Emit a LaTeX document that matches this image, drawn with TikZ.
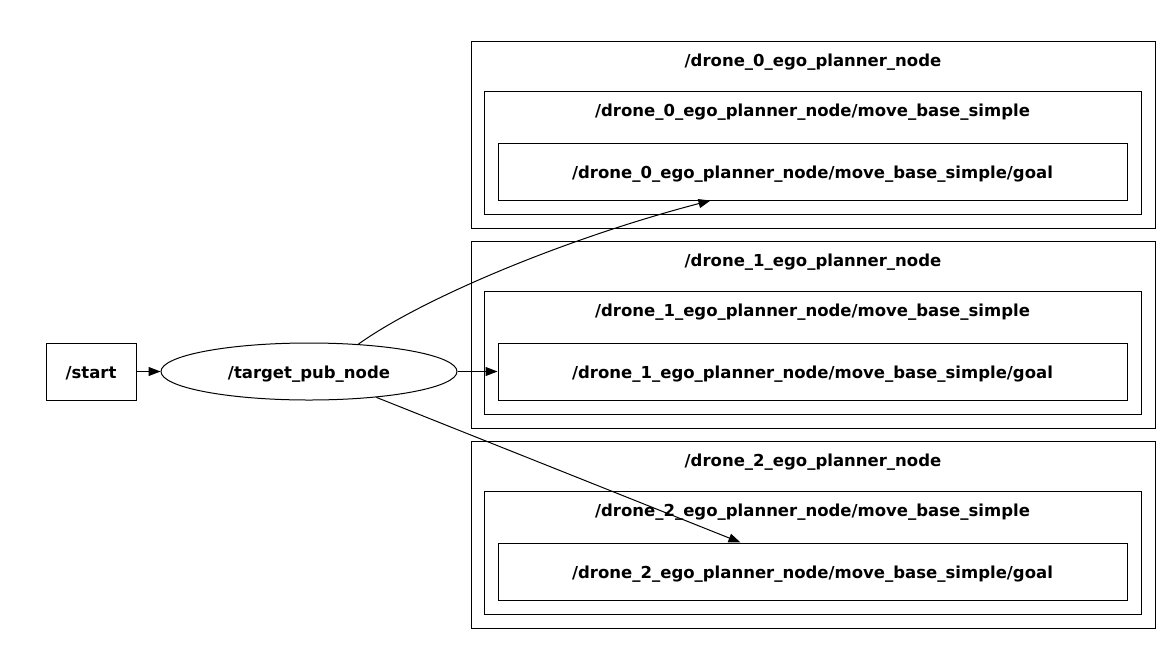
\documentclass[tikz,border=0pt]{standalone}
\usepackage{fontspec}
\setmainfont{DejaVu Sans}
\usetikzlibrary{arrows.meta,shapes.geometric}

\begin{document}
\begin{tikzpicture}[
    x=1pt, y=-1pt,
    every node/.style={font=\fontsize{16.5}{19}\selectfont\bfseries},
    outerbox/.style={rectangle, draw=black, line width=1pt, minimum width=684pt, minimum height=187pt, inner sep=0pt},
    midbox/.style={rectangle, draw=black, line width=1pt, minimum width=657pt, minimum height=123pt, inner sep=0pt},
    topicbox/.style={rectangle, draw=black, line width=1pt, minimum width=629pt, minimum height=57pt, inner sep=0pt, text height=14pt, text depth=1pt},
    title/.style={inner sep=0pt},
    arrow/.style={-{Triangle[length=12pt,width=9pt]}, line width=1pt}
]
\useasboundingbox (0,0) rectangle (1172,646);

% Nodes
\node[rectangle, draw=black, line width=1pt, minimum width=90pt, minimum height=57pt, inner sep=0pt, text height=14pt, text depth=1pt] (start) at (91,371.5) {/start};
\node[ellipse, draw=black, line width=1pt, minimum width=296pt, minimum height=57pt, inner sep=0pt, text height=14pt, text depth=1pt] (tpub) at (309,371.5) {/target\_pub\_node};

\node[outerbox] (d0) at (813,134.5) {};
\node[title] (d0title) at (813,62) {/drone\_0\_ego\_planner\_node};
\node[midbox] (d0mbs) at (812.5,152.5) {};
\node[title] (d0mbstitle) at (812.5,112) {/drone\_0\_ego\_planner\_node/move\_base\_simple};
\node[topicbox] (goal0) at (812.5,171.5) {/drone\_0\_ego\_planner\_node/move\_base\_simple/goal};

\node[outerbox] (d1) at (813,334.5) {};
\node[title] (d1title) at (813,262) {/drone\_1\_ego\_planner\_node};
\node[midbox] (d1mbs) at (812.5,352.5) {};
\node[title] (d1mbstitle) at (812.5,312) {/drone\_1\_ego\_planner\_node/move\_base\_simple};
\node[topicbox] (goal1) at (812.5,371.5) {/drone\_1\_ego\_planner\_node/move\_base\_simple/goal};

\node[outerbox] (d2) at (813,534.5) {};
\node[title] (d2title) at (813,462) {/drone\_2\_ego\_planner\_node};
\node[midbox] (d2mbs) at (812.5,552.5) {};
\node[title] (d2mbstitle) at (812.5,512) {/drone\_2\_ego\_planner\_node/move\_base\_simple};
\node[topicbox] (goal2) at (812.5,571.5) {/drone\_2\_ego\_planner\_node/move\_base\_simple/goal};

% Edges
\draw[arrow] (start.east) -- (tpub.west);
\draw[arrow] (tpub.east) -- (goal1.west);
\draw[arrow] (tpub.29) .. controls (420,300) and (560,240) .. ([xshift=-102pt]goal0.south);
\draw[arrow] (tpub.-21) -- ([xshift=-72pt]goal2.north);

\end{tikzpicture}
\end{document}
